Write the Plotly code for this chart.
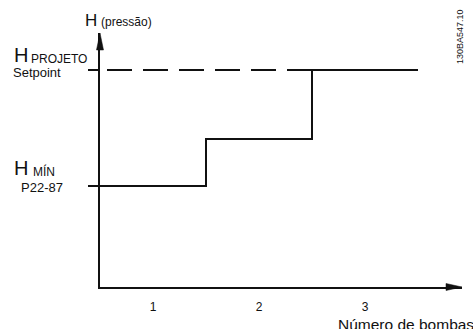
import plotly.graph_objects as go

# data
pumps = [1, 2, 3]
pump_labels = ["1", "2", "3"]
stage_x = [0.5, 1.5, 2.5, 3.5]
h_min = 1.01
h_mid = 1.48
h_setpoint = 2.17
pressure = [h_min, h_mid, h_setpoint, h_setpoint]
dash_x = [2.5, 0.5]
dash_y = [h_setpoint, h_setpoint]

W, H = 473, 329
L, R, T, B = 100, 11, 33, 42
FONT = "Arial, Liberation Sans, sans-serif"
INK = "#111111"


def px_x(p):
    return (p - L) / (W - L - R)


def px_y(p):
    return (H - B - p) / (H - T - B)


fig = go.Figure()

# setpoint reference (dashed)
fig.add_trace(go.Scatter(x=dash_x, y=dash_y, mode="lines",
                         line=dict(color=INK, width=2, dash="25px,11px"),
                         hoverinfo="skip"))
# pressure steps
fig.add_trace(go.Scatter(x=stage_x, y=pressure, mode="lines",
                         line=dict(color=INK, width=2, shape="hv"),
                         hoverinfo="skip"))


def label(text, x, y, size, **kw):
    fig.add_annotation(text=text, x=px_x(x), y=px_y(y), xref="paper", yref="paper",
                       xanchor=kw.pop("xanchor", "left"), yanchor="middle",
                       showarrow=False, font=dict(family=FONT, size=size, color=INK), **kw)


label("H", 83, 20, 17)
label("(pressão)", 99, 21.5, 12)
label("H", 12, 55, 20)
label("PROJETO", 29, 58.5, 12)
label("Setpoint", 11, 72.5, 13)
label("H", 12, 167.5, 20)
label("MÍN", 31, 171.5, 12)
label("P22-87", 19, 187.5, 13)
label("Número de bombas", 336, 324, 15.5)
label("130BA547.10", 460, 37, 9, xanchor="center", textangle=-90)


# arrowheads at the ends of the axes (drawn in paper space, sized in pixels)
def arrowhead(pts):
    path = "M " + " L ".join(f"{px_x(a):.5f},{px_y(b):.5f}" for a, b in pts) + " Z"
    fig.add_shape(type="path", xref="paper", yref="paper", path=path,
                  fillcolor=INK, line=dict(color=INK, width=0.5), layer="above")


x_end, y_axis = W - R, H - B
arrowhead([(x_end - 16, y_axis - 3.5), (x_end, y_axis), (x_end - 16, y_axis + 3.5)])
arrowhead([(L - 3.5, T + 17), (L, T), (L + 3.5, T + 17)])

fig.update_xaxes(range=[0.5, 0.5 + (W - L - R) / 106], tickvals=pumps, ticktext=pump_labels,
                 showline=True, linecolor=INK, linewidth=2, ticks="", showgrid=False,
                 zeroline=False, ticklabelstandoff=8,
                 tickfont=dict(family=FONT, size=12, color=INK))
fig.update_yaxes(range=[0, (H - T - B) / 100], tickvals=[h_min, h_setpoint],
                 showticklabels=False, ticks="outside", ticklen=10, tickwidth=1.5,
                 tickcolor=INK, showline=True, linecolor=INK, linewidth=2,
                 showgrid=False, zeroline=False)

fig.update_layout(width=W, height=H, margin=dict(l=L, r=R, t=T, b=B),
                  paper_bgcolor="white", plot_bgcolor="white", showlegend=False,
                  font=dict(family=FONT, color=INK))

# drop the default page margin so the figure sits at the window's corner
fig.write_html("out.html", config={"displayModeBar": False},
               post_script="document.body.style.margin='0';document.body.style.overflow='hidden';")
